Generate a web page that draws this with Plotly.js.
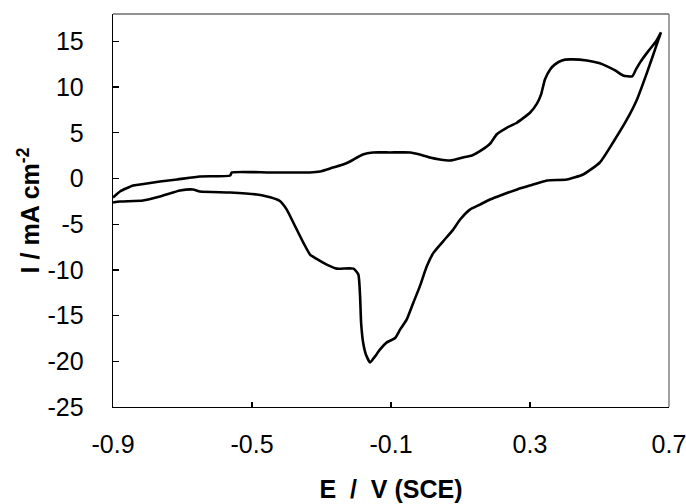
<!DOCTYPE html>
<html>
<head>
<meta charset="utf-8">
<script src="https://cdn.plot.ly/plotly-3.0.1.min.js"></script>
<style>html,body{margin:0;padding:0;background:#fff;}#chart{width:686px;height:504px;}</style>
</head>
<body>
<div id="chart"></div>
<script>
// Forward (anodic) sweep, -0.9 V -> 0.68 V
var forwardE = [-0.900,-0.880,-0.842,-0.822,-0.765,-0.716,-0.650,-0.563,-0.558,-0.448,-0.333,-0.304,-0.267,-0.238,-0.218,-0.181,-0.152,-0.103,-0.045,-0.017,0.012,0.041,0.070,0.107,0.133,0.156,0.185,0.204,0.233,0.262,0.300,0.320,0.332,0.343,0.358,0.372,0.392,0.415,0.464,0.501,0.522,0.545,0.568,0.594,0.605,0.617,0.640,0.663,0.677];
var forwardI = [-2.08,-1.42,-0.77,-0.66,-0.33,-0.11,0.22,0.33,0.66,0.66,0.66,0.77,1.20,1.53,1.86,2.63,2.85,2.85,2.85,2.63,2.30,2.08,1.97,2.30,2.52,2.99,3.80,4.82,5.55,6.10,7.20,8.20,9.20,10.84,11.94,12.49,12.92,13.03,12.92,12.60,12.27,11.83,11.28,11.17,11.94,12.71,13.91,15.01,15.99];
// Reverse (cathodic) sweep, 0.68 V -> -0.9 V
var reverseE = [0.677,0.660,0.637,0.608,0.579,0.539,0.501,0.453,0.406,0.349,0.300,0.263,0.222,0.185,0.156,0.127,0.099,0.079,0.050,0.022,0.003,-0.017,-0.036,-0.055,-0.074,-0.088,-0.112,-0.132,-0.146,-0.160,-0.172,-0.180,-0.186,-0.189,-0.194,-0.208,-0.256,-0.285,-0.314,-0.333,-0.352,-0.376,-0.400,-0.419,-0.428,-0.457,-0.486,-0.563,-0.650,-0.670,-0.707,-0.765,-0.814,-0.880,-0.900];
var reverseI = [15.99,14.13,11.61,8.65,6.46,3.94,1.75,0.44,-0.11,-0.22,-0.77,-1.20,-1.75,-2.30,-2.85,-3.40,-4.49,-5.59,-6.87,-8.14,-9.61,-11.80,-13.61,-15.44,-16.54,-17.45,-17.93,-18.73,-19.46,-20.12,-19.28,-18.00,-15.81,-12.89,-10.51,-9.86,-9.86,-9.42,-8.80,-8.32,-7.04,-5.22,-3.40,-2.49,-2.30,-1.97,-1.75,-1.53,-1.42,-1.20,-1.31,-1.97,-2.41,-2.52,-2.63];

var xTickVals = [-0.9,-0.5,-0.1,0.3,0.7];
var xTickText = ["-0.9","-0.5","-0.1","0.3","0.7"];
var yTickVals = [-25,-20,-15,-10,-5,0,5,10,15];
var yTickText = ["-25","-20","-15","-10","-5","0","5","10","15"];

var E = forwardE.concat(reverseE);
var I = forwardI.concat(reverseI);

var tickFont = {family: "'Liberation Sans Narrow', 'Arial Narrow', 'Liberation Sans', Arial, sans-serif", size: 25, color: '#000'};
var titleFont = {family: "'Liberation Sans', Arial, sans-serif", size: 25, color: '#000', weight: 'bold'};

var trace = {
  x: E, y: I, type: 'scatter', mode: 'lines',
  line: {color: '#000', width: 2.6, shape: 'spline', smoothing: 0.5},
  hoverinfo: 'skip'
};

var layout = {
  width: 686, height: 504,
  margin: {l: 113, r: 17, t: 14, b: 97, pad: 0},
  paper_bgcolor: '#fff', plot_bgcolor: '#fff',
  showlegend: false,
  xaxis: {
    range: [-0.9001, 0.7001], tickmode: 'array', tickvals: xTickVals, ticktext: xTickText,
    ticks: 'inside', ticklen: 5, tickwidth: 1.3, tickcolor: '#000',
    showline: true, linecolor: '#000', linewidth: 1.3, mirror: false,
    showgrid: false, zeroline: false, tickfont: tickFont, ticklabelstandoff: 15,
    ticklabeloverflow: 'allow',
    title: {text: 'E\u00a0\u00a0/\u00a0\u00a0V (SCE)', font: titleFont, standoff: 23},
    automargin: false, fixedrange: true
  },
  yaxis: {
    range: [-25, 18], tickmode: 'array', tickvals: yTickVals, ticktext: yTickText,
    ticks: 'inside', ticklen: 6, tickwidth: 1.3, tickcolor: '#000',
    showline: true, linecolor: '#000', linewidth: 1.3, mirror: false,
    showgrid: false, zeroline: false, tickfont: tickFont, ticklabelstandoff: 23,
    ticklabeloverflow: 'allow',
    title: {text: 'I / mA cm<sup>-2</sup>', font: titleFont, standoff: 0},
    automargin: false, fixedrange: true
  },
  shapes: [
    {type: 'line', xref: 'paper', yref: 'paper', x0: 0, x1: 1, y0: 1, y1: 1, line: {color: '#6e6e6e', width: 1.3}},
    {type: 'line', xref: 'paper', yref: 'paper', x0: 1, x1: 1, y0: 0, y1: 1, line: {color: '#6e6e6e', width: 1.3}}
  ]
};

Plotly.newPlot('chart', [trace], layout, {displayModeBar: false, staticPlot: true});
</script>
</body>
</html>
